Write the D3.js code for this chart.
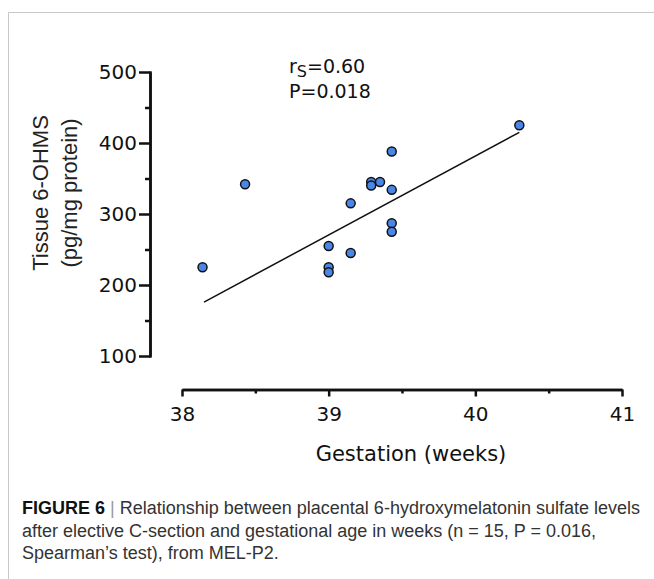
<!DOCTYPE html>
<html>
<head>
  <meta charset="utf8">
  <title>Tissue 6-OHMS vs gestation</title>
  <style>
  * { margin: 0; padding: 0; }
  body { background: #fff; }
  </style>
</head>
<body>
  <script src="https://cdn.jsdelivr.net/npm/d3@7"></script>
  <script>
  //Width and height
  var w = 654;
  var h = 579;

  //Data
  var gestation = [38.14, 38.43, 39.0, 39.0, 39.0, 39.15, 39.15, 39.29, 39.29, 39.35, 39.43, 39.43, 39.43, 39.43, 40.30];
  var ohms = [225, 342, 255, 225, 218, 315, 245, 345, 340, 345, 388, 334, 287, 275, 425];
  var fitX = [38.15, 40.30]; //regression line ends
  var fitY = [176, 415];
  var xTicks = [38, 39, 40, 41];
  var xMinor = [38.5, 39.5, 40.5];
  var yTicks = [100, 200, 300, 400, 500];
  var yMinor = [150, 250, 350, 450];
  var captionLines = [
    "Relationship between placental 6-hydroxymelatonin sulfate levels",
    "after elective C-section and gestational age in weeks (n = 15, P = 0.016,",
    "Spearman\u2019s test), from MEL-P2."
  ];

  var dataset = gestation.map(function(d, i) { return [d, ohms[i]]; });

  //Scales
  var xScale = d3.scaleLinear().domain([38, 41]).range([182, 622]);
  var yScale = d3.scaleLinear().domain([100, 500]).range([356, 72]);

  var svg = d3.select("body")
    .append("svg")
    .attr("width", w)
    .attr("height", h);

  //Frame (top and left rules)
  svg.append("path")
    .attr("d", "M8.5," + h + "V12.5H" + w)
    .attr("fill", "none")
    .attr("stroke", "#c8c8c8")
    .attr("stroke-width", 1);

  var axisFont = "'DejaVu Sans', Verdana, sans-serif";

  //Y axis
  var yAxis = d3.axisLeft(yScale).tickValues(yTicks).tickSize(11).tickPadding(2).tickSizeOuter(0);
  var yMinorAxis = d3.axisLeft(yScale).tickValues(yMinor).tickSize(5).tickFormat("").tickSizeOuter(0);
  var gy = svg.append("g").attr("transform", "translate(150,0)").call(yAxis);
  var gy2 = svg.append("g").attr("transform", "translate(150,0)").call(yMinorAxis);

  //X axis
  var xAxis = d3.axisBottom(xScale).tickValues(xTicks).tickFormat(d3.format("d"))
    .tickSize(7).tickPadding(10).tickSizeOuter(0);
  var xMinorAxis = d3.axisBottom(xScale).tickValues(xMinor).tickSize(4).tickFormat("").tickSizeOuter(0);
  var gx = svg.append("g").attr("transform", "translate(0,389.5)").call(xAxis);
  var gx2 = svg.append("g").attr("transform", "translate(0,389.5)").call(xMinorAxis);

  [gy, gy2, gx, gx2].forEach(function(g) {
    g.selectAll("path, line").attr("stroke", "#111").attr("stroke-width", 2.5);
    g.selectAll("text")
      .attr("fill", "#111")
      .style("font-family", axisFont)
      .style("font-size", "20px");
  });
  gy.select(".domain").attr("stroke-linecap", "square");

  //Axis titles
  svg.append("text")
    .attr("x", 411)
    .attr("y", 461)
    .attr("text-anchor", "middle")
    .style("font-family", axisFont)
    .style("font-size", "21px")
    .attr("fill", "#111")
    .text("Gestation (weeks)");

  var yTitle = svg.append("text")
    .attr("transform", "translate(0,193) rotate(-90)")
    .attr("text-anchor", "middle")
    .style("font-family", "'Liberation Sans', Arial, sans-serif")
    .style("font-size", "22px")
    .attr("fill", "#222");
  yTitle.append("tspan").attr("x", 0).attr("y", 48).text("Tissue 6-OHMS");
  yTitle.append("tspan").attr("x", 0).attr("y", 77).text("(pg/mg protein)");

  //Regression line
  svg.append("line")
    .attr("x1", xScale(fitX[0]))
    .attr("y1", yScale(fitY[0]))
    .attr("x2", xScale(fitX[1]))
    .attr("y2", yScale(fitY[1]))
    .attr("stroke", "#111")
    .attr("stroke-width", 1.5);

  //Points
  svg.selectAll("circle")
    .data(dataset)
    .enter()
    .append("circle")
    .attr("cx", function(d) { return xScale(d[0]); })
    .attr("cy", function(d) { return yScale(d[1]); })
    .attr("r", 4.5)
    .attr("fill", "#4a86e8")
    .attr("stroke", "#111")
    .attr("stroke-width", 1.5);

  //Statistics
  var stat = svg.append("text")
    .attr("x", 289)
    .attr("y", 73)
    .style("font-family", axisFont)
    .style("font-size", "19px")
    .attr("fill", "#111");
  stat.append("tspan").text("r");
  stat.append("tspan").attr("dy", 4).style("font-size", "16px").text("S");
  stat.append("tspan").attr("dy", -4).text("=0.60");
  svg.append("text")
    .attr("x", 289)
    .attr("y", 98)
    .style("font-family", axisFont)
    .style("font-size", "19px")
    .attr("fill", "#111")
    .text("P=0.018");

  //Caption
  var cap = svg.append("text")
    .style("font-family", "'Liberation Sans', Arial, sans-serif")
    .style("font-size", "18px")
    .attr("fill", "#333");
  captionLines.forEach(function(line, i) {
    var t = cap.append("tspan").attr("x", 22).attr("y", 514 + i * 22.5);
    if (i === 0) {
      t.append("tspan").style("font-weight", "bold").attr("fill", "#111").text("FIGURE 6 ");
      t.append("tspan").attr("fill", "#999").text("| ");
    }
    t.append("tspan").text(line);
  });
  </script>
</body>
</html>
